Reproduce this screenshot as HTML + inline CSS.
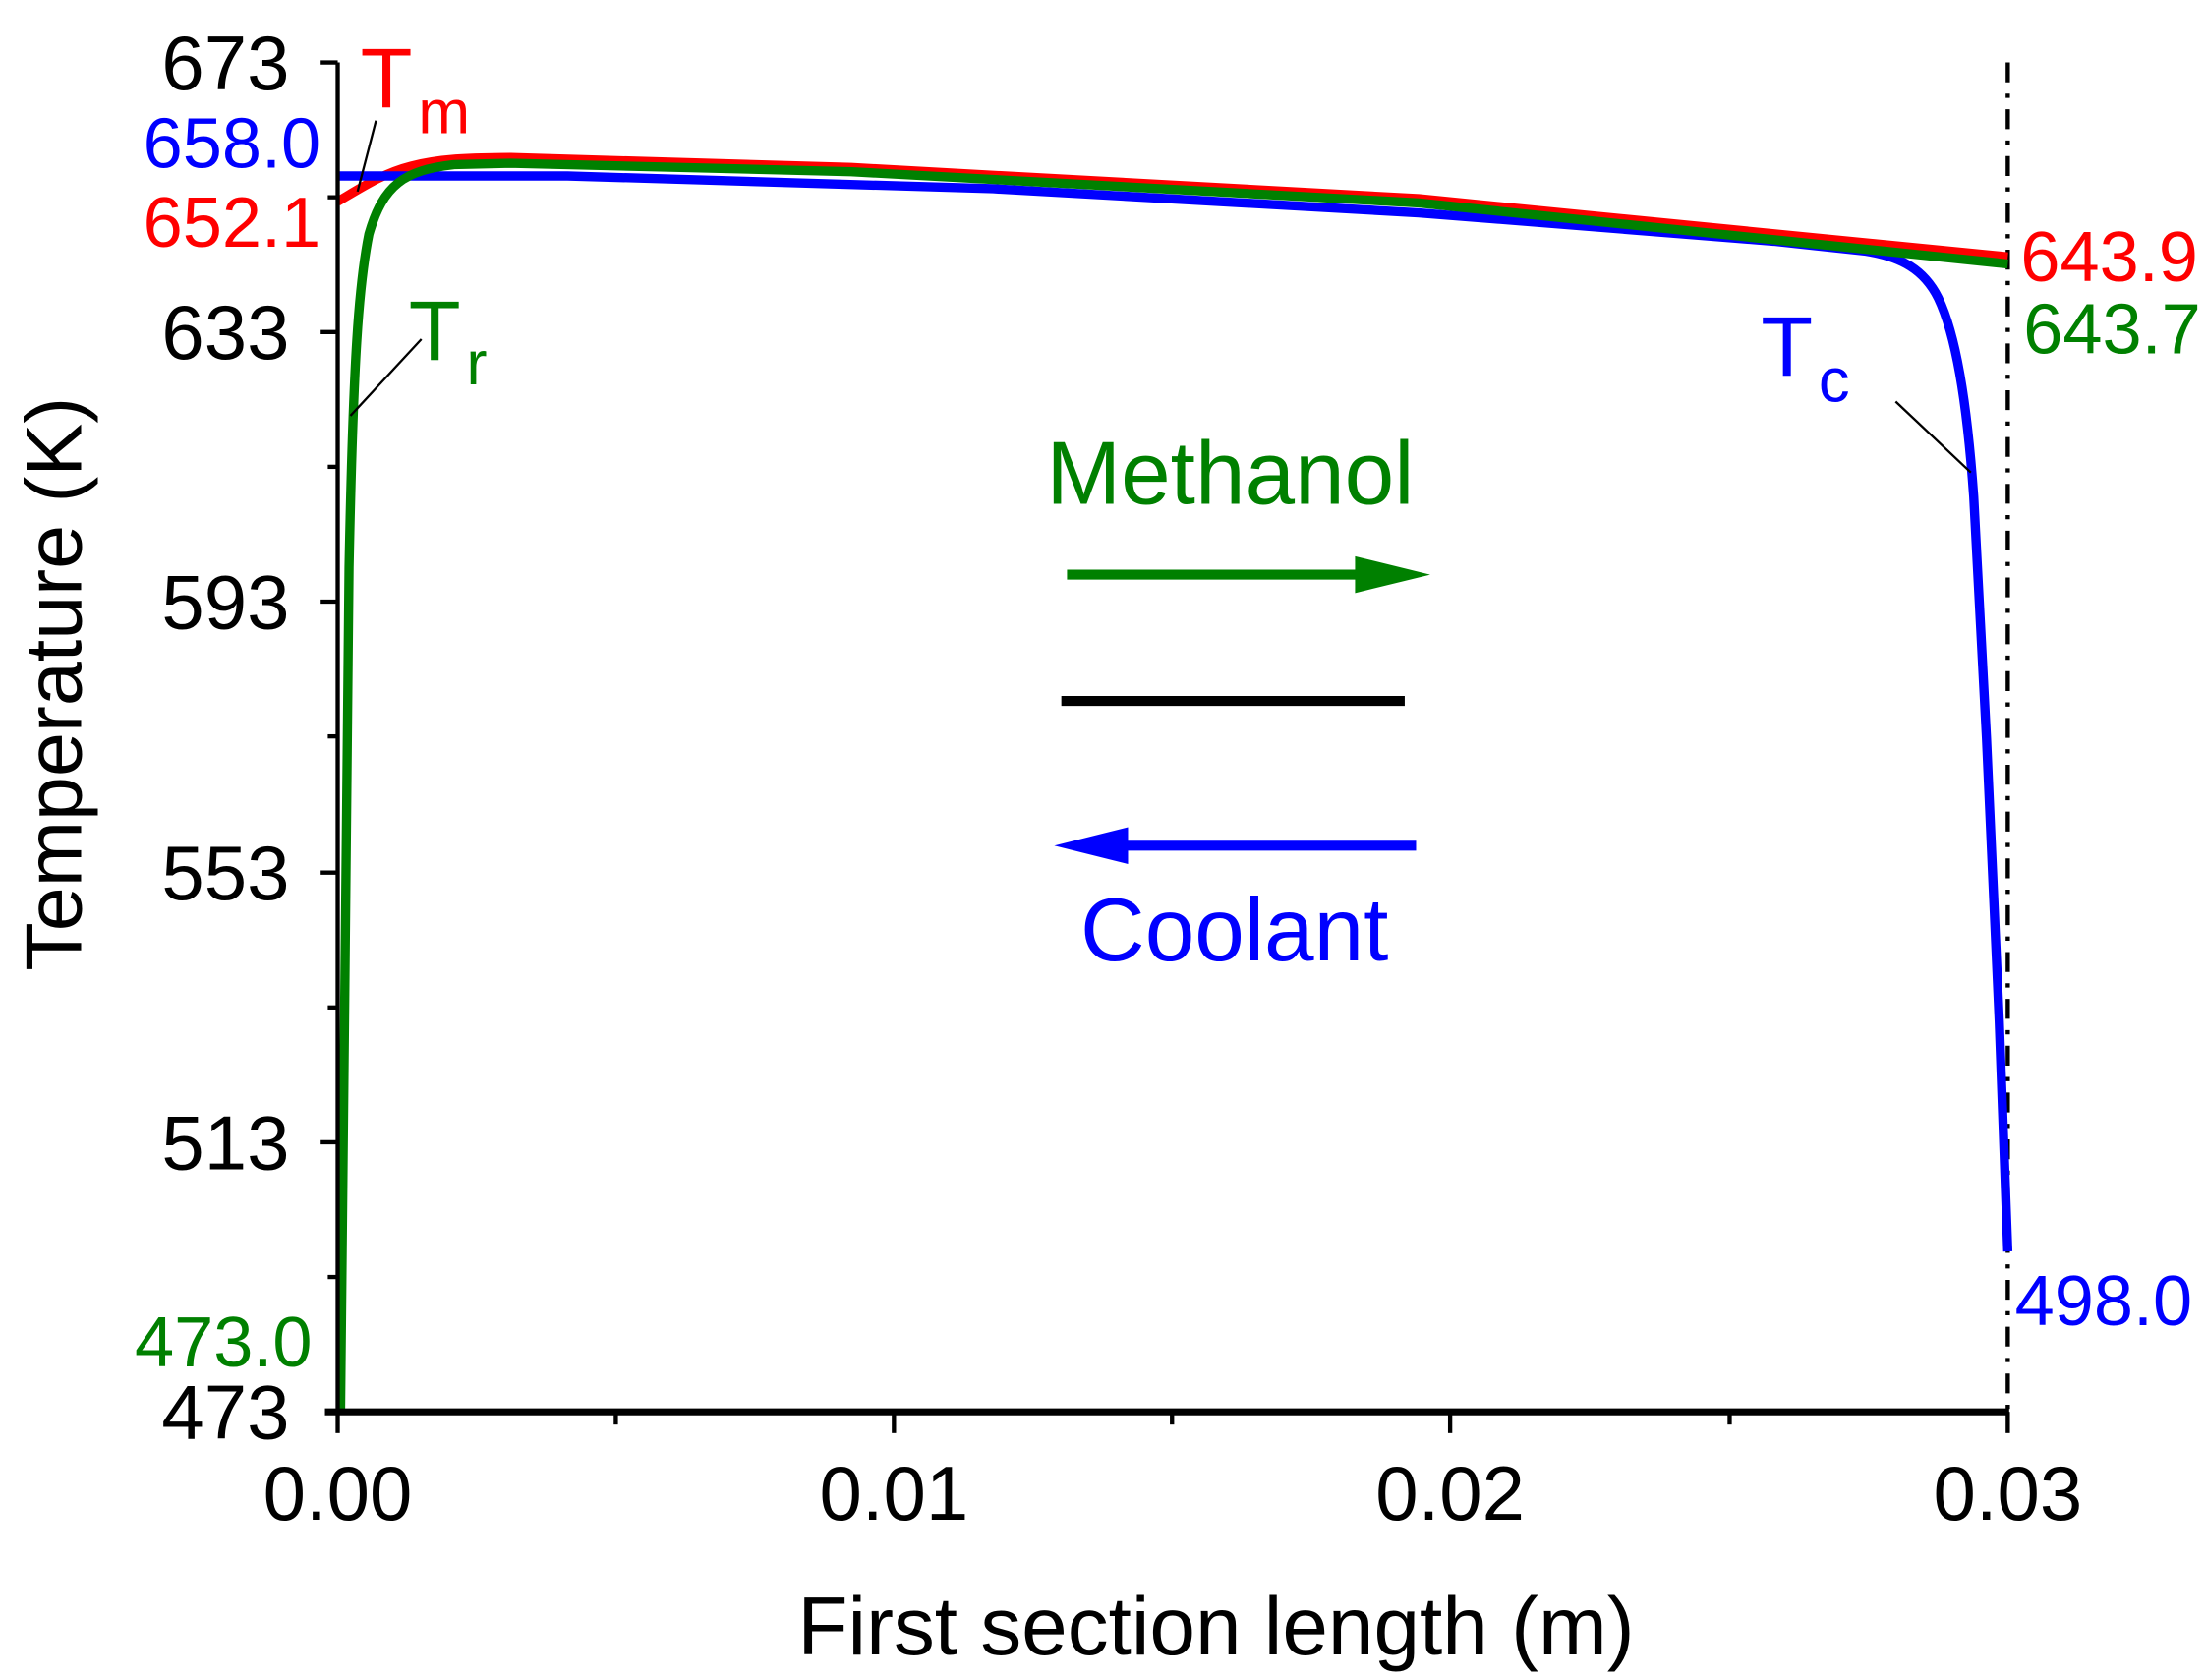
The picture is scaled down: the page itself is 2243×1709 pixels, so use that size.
<!DOCTYPE html>
<html><head><meta charset="utf-8"><style>html,body{margin:0;padding:0;background:#fff}svg{display:block}text{font-family:"Liberation Sans",Arial,sans-serif}</style></head>
<body>
<svg width="2243" height="1709" viewBox="0 0 1554 1184" xmlns="http://www.w3.org/2000/svg">
<rect width="1554" height="1184" fill="#fff"/>
<line x1="1415" y1="44" x2="1415" y2="995" stroke="#000" stroke-width="3" stroke-dasharray="14,8,3,8"/>
<path d="M238,142 C255,132 270,122 290,117 C310,112 330,111 360,111 L600,118 L1000,140 L1415,181" fill="none" stroke="#f00" stroke-width="6.5"/>
<path d="M238,124 L400,124 L700,133 L1000,150 L1250,170 L1315,177 C1340,181 1356,190 1366,210 C1378,235 1386,280 1391,350 L1400,520 L1409,720 L1415,882" fill="none" stroke="#00f" stroke-width="6.5"/>
<path d="M240,995 L243,700 L246,400 C249,250 253,200 260,165 C270,130 285,120 320,116 L360,115 L600,121 L1000,143 L1415,186" fill="none" stroke="#008000" stroke-width="6.5"/>
<line x1="238" y1="44" x2="238" y2="996.5" stroke="#000" stroke-width="3"/>
<line x1="229" y1="995" x2="1416" y2="995" stroke="#000" stroke-width="5"/>
<g stroke="#000" stroke-width="3">
<line x1="226" y1="44" x2="238" y2="44"/><line x1="226" y1="234" x2="238" y2="234"/><line x1="226" y1="424" x2="238" y2="424"/><line x1="226" y1="615" x2="238" y2="615"/><line x1="226" y1="805" x2="238" y2="805"/>
<line x1="231" y1="139" x2="238" y2="139"/><line x1="231" y1="329" x2="238" y2="329"/><line x1="231" y1="519" x2="238" y2="519"/><line x1="231" y1="710" x2="238" y2="710"/><line x1="231" y1="900" x2="238" y2="900"/>
<line x1="238" y1="995" x2="238" y2="1010"/><line x1="630" y1="995" x2="630" y2="1010"/><line x1="1022" y1="995" x2="1022" y2="1010"/><line x1="1415" y1="995" x2="1415" y2="1010"/>
<line x1="434" y1="995" x2="434" y2="1004"/><line x1="826" y1="995" x2="826" y2="1004"/><line x1="1219" y1="995" x2="1219" y2="1004"/>
</g>
<g font-size="54" text-anchor="end" fill="#000">
<text x="204" y="63">673</text><text x="204" y="253">633</text><text x="204" y="443">593</text><text x="204" y="634">553</text><text x="204" y="824">513</text><text x="204" y="1014">473</text>
</g>
<g font-size="54" text-anchor="middle">
<text x="238" y="1071">0.00</text><text x="630" y="1071">0.01</text><text x="1022" y="1071">0.02</text><text x="1415" y="1071">0.03</text>
</g>
<text x="857" y="1166" font-size="58" text-anchor="middle">First section length (m)</text>
<text transform="translate(57,482) rotate(-90)" font-size="56" text-anchor="middle">Temperature (K)</text>
<g font-size="50">
<text x="226" y="118" text-anchor="end" fill="#00f">658.0</text>
<text x="226" y="174" text-anchor="end" fill="#f00">652.1</text>
<text x="220" y="963" text-anchor="end" fill="#008000">473.0</text>
<text x="1424" y="198" fill="#f00">643.9</text>
<text x="1426" y="249" fill="#008000">643.7</text>
<text x="1420" y="934" fill="#00f">498.0</text>
</g>
<text x="254" y="76" font-size="60" fill="#f00">T<tspan font-size="44" dx="4" dy="18">m</tspan></text>
<text x="288" y="254" font-size="60" fill="#008000">T<tspan font-size="44" dx="4" dy="17">r</tspan></text>
<text x="1241" y="265" font-size="60" fill="#00f">T<tspan font-size="44" dx="4" dy="18">c</tspan></text>
<g stroke="#000" stroke-width="1.6">
<line x1="265" y1="85" x2="252" y2="135"/>
<line x1="297" y1="239" x2="247" y2="293"/>
<line x1="1336" y1="283" x2="1389" y2="333"/>
</g>
<text x="867" y="355" font-size="63" text-anchor="middle" fill="#008000">Methanol</text>
<line x1="752" y1="405" x2="960" y2="405" stroke="#008000" stroke-width="7"/>
<polygon points="955,392 1008,405 955,418" fill="#008000"/>
<line x1="748" y1="494" x2="990" y2="494" stroke="#000" stroke-width="7"/>
<line x1="998" y1="596" x2="790" y2="596" stroke="#00f" stroke-width="7"/>
<polygon points="795,583 743,596 795,609" fill="#00f"/>
<text x="870" y="677" font-size="63" text-anchor="middle" fill="#00f">Coolant</text>
</svg>
</body></html>
